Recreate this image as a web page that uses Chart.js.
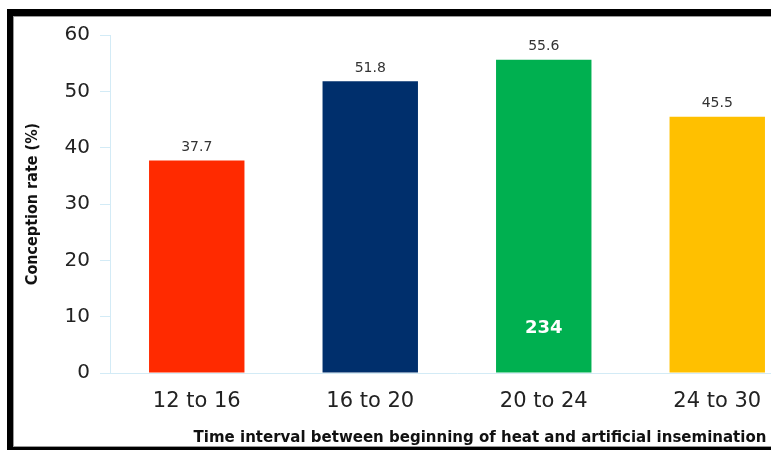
<!DOCTYPE html>
<html>
<head>
<meta charset="utf-8">
<script src="https://cdn.jsdelivr.net/npm/chart.js@4/dist/chart.umd.min.js"></script>
<style>
  html, body { margin: 0; padding: 0; background: #fff; overflow: hidden; }
  body { width: 771px; height: 450px; position: relative; }
  .frame {
    position: absolute; left: 7px; top: 9px; width: 764px; height: 441px;
    box-sizing: border-box; overflow: hidden; background: #fff;
    border-top: 7px solid #000; border-left: 6px solid #000; border-bottom: 3px solid #000;
    border-right: 0;
  }
  .edge {
    position: absolute; left: 0; top: 0; width: 800px; height: 431px; box-sizing: border-box;
    border-top: 1px solid #9a9a9a; border-left: 1px solid #9a9a9a; border-bottom: 1px solid #9a9a9a;
    z-index: 2; pointer-events: none;
  }
  .box { position: absolute; left: 0; top: -3px; width: 800px; height: 434px; }
</style>
</head>
<body>
<div class="frame"><div class="box"><canvas id="chart"></canvas></div><div class="edge"></div></div>
<script>
// Intervalles (heures) et taux de conception
const intervals = ['12 to 16', '16 to 20', '20 to 24', '24 to 30'];
const conceptionRate = [37.7, 51.8, 55.6, 45.5];
const barColors = ['#ff2a00', '#002f6c', '#00b050', '#ffc000'];
const barNotes = ['', '', '234', ''];
const yTicks = [0, 10, 20, 30, 40, 50, 60];

const xTitle = 'Time interval between beginning of heat and artificial insemination';
const yTitle = 'Conception rate (%)';
const axisBlue = '#d3ebf6';

// étiquettes au-dessus des barres + note dans la barre verte
const labelsPlugin = {
  id: 'barLabels',
  afterDatasetsDraw(chart) {
    const ctx = chart.ctx;
    const meta = chart.getDatasetMeta(0);
    ctx.save();
    ctx.textAlign = 'center';
    meta.data.forEach((bar, i) => {
      ctx.fillStyle = '#333';
      ctx.font = '14px "DejaVu Sans", sans-serif';
      ctx.textBaseline = 'bottom';
      ctx.fillText(conceptionRate[i].toFixed(1), bar.x, bar.y - 6);
      if (barNotes[i]) {
        ctx.fillStyle = '#fff';
        ctx.font = 'bold 18px "DejaVu Sans", sans-serif';
        ctx.textBaseline = 'middle';
        ctx.fillText(barNotes[i], bar.x, chart.chartArea.bottom - 45);
      }
    });
    // titre de l'axe X
    ctx.fillStyle = '#111';
    ctx.font = 'bold 15px "DejaVu Sans", sans-serif';
    ctx.textBaseline = 'middle';
    ctx.fillText(xTitle, 467, 425);
    ctx.restore();
  }
};

const ctx = document.getElementById('chart').getContext('2d');
const chart = new Chart(ctx, {
  type: 'bar',
  data: {
    labels: intervals,
    datasets: [{
      data: conceptionRate,
      backgroundColor: barColors,
      borderWidth: 0,
      categoryPercentage: 1,
      barPercentage: 0.55
    }]
  },
  options: {
    responsive: true,
    maintainAspectRatio: false,
    animation: false,
    layout: { padding: { top: 14, right: 9, bottom: 0, left: 0 } },
    plugins: { legend: { display: false }, tooltip: { enabled: false } },
    scales: {
      x: {
        grid: { display: true, drawOnChartArea: false, drawTicks: false, color: 'transparent' },
        border: { display: true, color: axisBlue, width: 1 },
        ticks: { color: '#222', padding: 16, font: { family: '"DejaVu Sans", sans-serif', size: 21 } },
        afterFit(scale) { scale.height = 74; }
      },
      y: {
        min: 0, max: 60,
        afterBuildTicks(scale) { scale.ticks = yTicks.map(v => ({ value: v })); },
        grid: { drawOnChartArea: false, drawTicks: true, tickLength: 10, color: axisBlue },
        border: { display: true, color: axisBlue, width: 1 },
        ticks: { color: '#222', padding: 10, font: { family: '"DejaVu Sans", sans-serif', size: 20 } },
        title: {
          display: true, text: yTitle, color: '#111',
          padding: { top: 10, bottom: 0 },
          font: { family: '"DejaVu Sans Condensed", "DejaVu Sans", sans-serif', size: 16, weight: 'bold' }
        },
        afterFit(scale) { scale.width = 97; }
      }
    }
  },
  plugins: [labelsPlugin]
});
</script>
</body>
</html>
